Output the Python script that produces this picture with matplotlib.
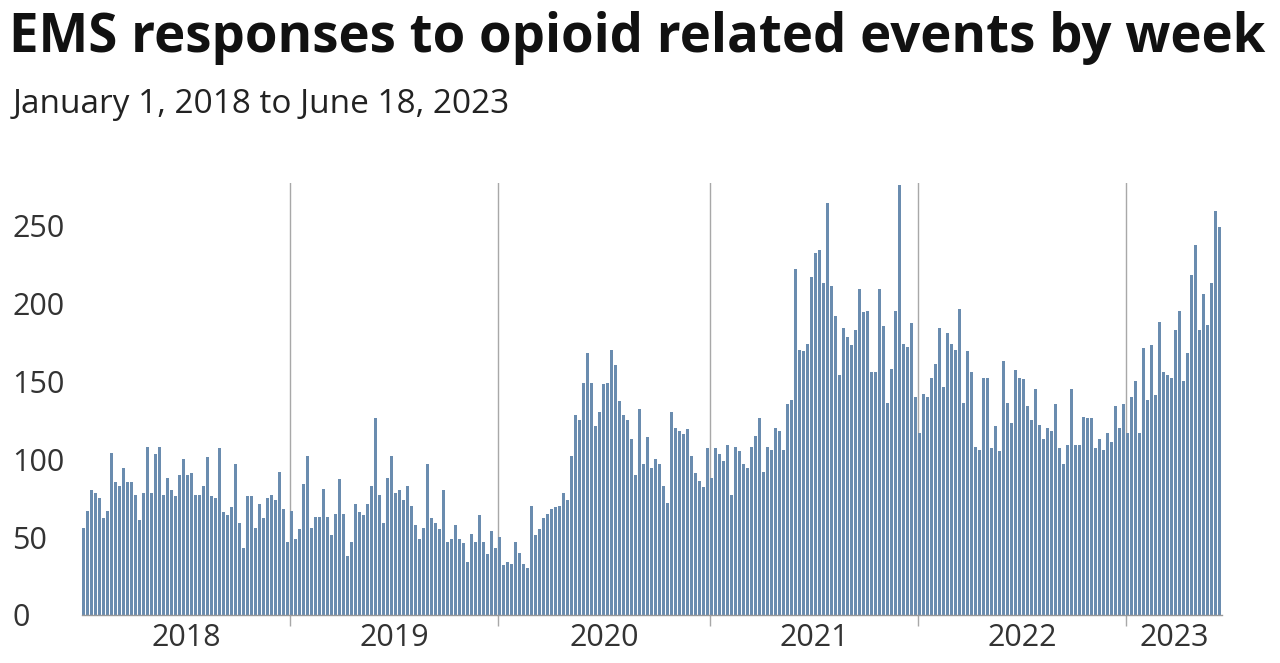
import matplotlib
matplotlib.use("Agg")
import matplotlib.pyplot as plt
import numpy as np
import pandas as pd

# weekly counts, one list per year (weeks start on Monday)
counts_2018 = [56, 67, 80, 78, 75, 62, 67, 104, 85, 83, 94, 85, 85, 77, 61, 78, 108, 78, 103, 108,
               77, 88, 80, 76, 90, 100, 90, 91, 77, 77, 83, 101, 76, 75, 107, 66, 64, 69, 97, 59,
               43, 76, 76, 56, 71, 62, 75, 77, 74, 92, 68, 47]
counts_2019 = [67, 49, 55, 84, 102, 56, 63, 63, 81, 63, 51, 65, 87, 65, 38, 47, 71, 66, 64, 71,
               83, 126, 77, 59, 88, 102, 78, 80, 74, 83, 70, 58, 49, 56, 97, 62, 59, 55, 80, 47,
               49, 58, 49, 46, 34, 52, 47, 64, 47, 39, 54, 43]
counts_2020 = [50, 32, 34, 33, 47, 40, 33, 30, 70, 51, 55, 62, 65, 68, 69, 70, 78, 74, 102, 128,
               125, 149, 168, 149, 121, 130, 148, 149, 170, 160, 137, 128, 125, 113, 90, 132, 97, 114, 94, 100,
               97, 83, 72, 130, 120, 118, 116, 119, 102, 91, 86, 82, 107]
counts_2021 = [88, 107, 103, 99, 109, 77, 108, 105, 97, 94, 108, 115, 126, 92, 108, 106, 120, 118, 106, 135,
               138, 222, 170, 169, 174, 217, 232, 234, 213, 264, 211, 192, 154, 184, 178, 173, 183, 209, 194, 195,
               156, 156, 209, 185, 136, 158, 195, 276, 174, 172, 187, 140]
counts_2022 = [117, 142, 140, 152, 161, 184, 146, 181, 174, 170, 196, 136, 169, 156, 108, 106, 152, 152, 107, 121,
               105, 163, 136, 123, 157, 152, 151, 134, 125, 145, 122, 113, 120, 118, 135, 107, 97, 109, 145, 109,
               109, 127, 126, 126, 107, 113, 106, 117, 111, 134, 120, 135]
counts_2023 = [117, 140, 150, 117, 171, 138, 173, 141, 188, 156, 154, 152, 183, 195, 150, 168, 218, 237, 183, 206,
               186, 213, 259, 249]

years = [2018, 2019, 2020, 2021, 2022, 2023]
y_ticks = [0, 50, 100, 150, 200, 250]

counts = np.array(counts_2018 + counts_2019 + counts_2020 + counts_2021 + counts_2022 + counts_2023)
weeks = pd.date_range("2018-01-01", periods=len(counts), freq="7D")
end_date = weeks[-1] + pd.Timedelta(days=7)

# x in days since the start, so bars, year lines and labels share one scale
x = (weeks - weeks[0]).days.values
x_end = (end_date - weeks[0]).days
boundaries = []
for y in years[1:]:
    # the week that starts nearest to Jan 1 opens the year
    jan1 = pd.Timestamp(f"{y}-01-01")
    idx = np.argmin(np.abs((weeks - jan1).days))
    boundaries.append(x[idx])
spans = [0] + boundaries + [x_end]
centers = [(spans[i] + spans[i + 1]) / 2 for i in range(len(years))]

plt.rcParams["font.family"] = ["Open Sans", "DejaVu Sans"]

fig = plt.figure(figsize=(12.8, 6.63), dpi=100)
ax = fig.add_axes([0.064, 0.0724, 0.8907, 0.6516])

ax.bar(x, counts, width=7 * 0.8, align="edge", color="#6a8caf", edgecolor="none")
for b in boundaries:
    ax.axvline(b, color="#a8a8a8", linewidth=1.0, zorder=0.5)

ax.set_xlim(0, x_end)
ax.set_ylim(0, 277)

ax.set_yticks(y_ticks)
ax.set_yticklabels([str(v) for v in y_ticks])
for lbl in ax.get_yticklabels():
    lbl.set_horizontalalignment("left")
ax.tick_params(axis="y", length=0, pad=50, labelsize=22, labelcolor="#333333")

ax.set_xticks(boundaries)
ax.set_xticklabels([])
ax.tick_params(axis="x", which="major", length=8, color="#a8a8a8", width=1)
ax.set_xticks(centers, minor=True)
ax.set_xticklabels([str(y) for y in years], minor=True)
ax.tick_params(axis="x", which="minor", length=0, pad=6, labelsize=22, labelcolor="#333333")

for side in ["top", "right", "left"]:
    ax.spines[side].set_visible(False)
ax.spines["bottom"].set_color("#9a9a9a")
ax.spines["bottom"].set_linewidth(1)

fig.text(0.007, 0.943, "EMS responses to opioid related events by week", fontsize=38,
         fontweight="bold", color="#111111", va="center", ha="left")
fig.text(0.010, 0.843, "January 1, 2018 to June 18, 2023", fontsize=24,
         color="#222222", va="center", ha="left")

fig.savefig("out.png", dpi=100)
